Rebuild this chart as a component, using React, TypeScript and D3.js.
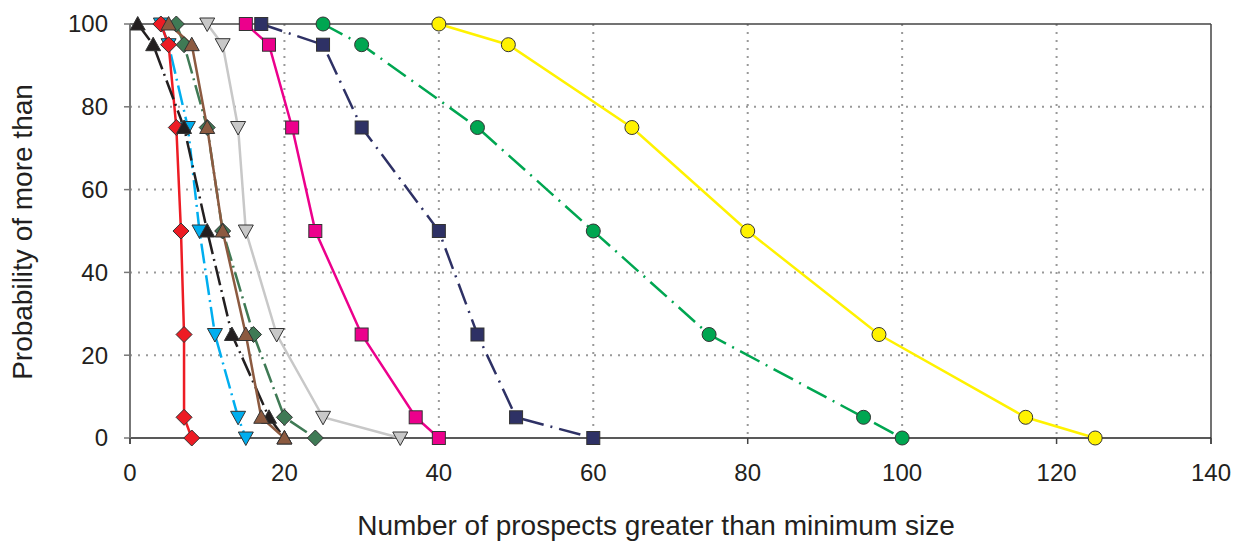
import React from "react";
import * as d3 from "d3";

const probLevels = [100, 95, 75, 50, 25, 5, 0];
const xTicks = [0, 20, 40, 60, 80, 100, 120, 140];
const yTicks = [0, 20, 40, 60, 80, 100];

const seriesGreenDiamond = [6, 7, 10, 12, 16, 20, 24];
const seriesBlue = [4, 5, 7.5, 9, 11, 14, 15];
const seriesRed = [4, 5, 6, 6.6, 7, 7, 8];
const seriesBlack = [1, 3, 7, 10, 13.2, 18, 20];
const seriesBrown = [5, 8, 10, 12, 15, 17, 20];
const seriesGray = [10, 12, 14, 15, 19, 25, 35];
const seriesMagenta = [15, 18, 21, 24, 30, 37, 40];
const seriesNavy = [17, 25, 30, 40, 45, 50, 60];
const seriesGreenCircle = [25, 30, 45, 60, 75, 95, 100];
const seriesYellow = [40, 49, 65, 80, 97, 116, 125];

type S = { xs: number[]; color: string; dash: string; marker: string; fill: string };
const series: S[] = [
  { xs: seriesGreenDiamond, color: "#3f7a55", dash: "20,5,2,5", marker: "diamond", fill: "#3f7a55" },
  { xs: seriesBlue, color: "#00aeef", dash: "20,5,2,5", marker: "tdown", fill: "#00aeef" },
  { xs: seriesRed, color: "#ed1c24", dash: "", marker: "diamond", fill: "#ed1c24" },
  { xs: seriesBlack, color: "#231f20", dash: "20,5,2,5", marker: "tup", fill: "#231f20" },
  { xs: seriesBrown, color: "#8c5a40", dash: "", marker: "tup", fill: "#8c5a40" },
  { xs: seriesGray, color: "#c8c8c8", dash: "", marker: "tdown", fill: "#c8c8c8" },
  { xs: seriesMagenta, color: "#ec008c", dash: "", marker: "square", fill: "#ec008c" },
  { xs: seriesNavy, color: "#2e3165", dash: "22,7,2,7", marker: "square", fill: "#2e3165" },
  { xs: seriesGreenCircle, color: "#00a651", dash: "22,7,2,7", marker: "circle", fill: "#00a651" },
  { xs: seriesYellow, color: "#fff200", dash: "", marker: "circle", fill: "#fff200" },
];

const W = 1238, H = 544;
const x = d3.scaleLinear().domain([0, 140]).range([130, 1211]);
const y = d3.scaleLinear().domain([0, 100]).range([438, 24]);

function Marker({ kind, cx, cy, fill }: { kind: string; cx: number; cy: number; fill: string }) {
  const st = { fill, stroke: "#333", strokeWidth: 1 };
  if (kind === "diamond") {
    const r = 8;
    return <path d={`M${cx},${cy - r}L${cx + r},${cy}L${cx},${cy + r}L${cx - r},${cy}Z`} {...st} />;
  }
  if (kind === "square") {
    const r = 6.5;
    return <rect x={cx - r} y={cy - r} width={2 * r} height={2 * r} {...st} />;
  }
  if (kind === "circle") {
    return <circle cx={cx} cy={cy} r={7} {...st} />;
  }
  if (kind === "tup") {
    return <path d={`M${cx},${cy - 7.5}L${cx + 7.5},${cy + 6}L${cx - 7.5},${cy + 6}Z`} {...st} />;
  }
  return <path d={`M${cx},${cy + 7.5}L${cx + 7.5},${cy - 6}L${cx - 7.5},${cy - 6}Z`} {...st} />;
}

export default function App() {
  const line = d3
    .line<[number, number]>()
    .x((d) => x(d[0]))
    .y((d) => y(d[1]));
  const font = "'Liberation Sans', Arial, sans-serif";
  return (
    <svg width={W} height={H} style={{ position: "absolute", left: 0, top: 0, background: "#fff" }} fontFamily={font}>
      {yTicks.filter((t) => t > 0 && t < 100).map((t) => (
        <line key={"gy" + t} x1={x(0)} x2={x(140)} y1={y(t)} y2={y(t)} stroke="#999" strokeWidth={2} strokeDasharray="2,6" />
      ))}
      {xTicks.filter((t) => t > 0 && t < 140).map((t) => (
        <line key={"gx" + t} x1={x(t)} x2={x(t)} y1={y(100)} y2={y(0)} stroke="#999" strokeWidth={2} strokeDasharray="2,6" />
      ))}
      <line x1={x(0)} x2={x(140)} y1={y(100)} y2={y(100)} stroke="#444" strokeWidth={1.5} />
      <line x1={x(140)} x2={x(140)} y1={y(100)} y2={y(0) + 6} stroke="#444" strokeWidth={1.5} />
      <line x1={x(0)} x2={x(140)} y1={y(0)} y2={y(0)} stroke="#222" strokeWidth={1.5} />
      <line x1={x(0)} x2={x(0)} y1={y(100)} y2={y(0) + 6} stroke="#777" strokeWidth={2} />
      {yTicks.map((t) => (
        <g key={"yt" + t}>
          <line x1={x(0) - 6} x2={x(0)} y1={y(t)} y2={y(t)} stroke="#777" strokeWidth={1.5} />
          <text x={108} y={y(t)} dy="0.35em" textAnchor="end" fontSize={24} fill="#231f20">{t}</text>
        </g>
      ))}
      {xTicks.map((t) => (
        <g key={"xt" + t}>
          <line x1={x(t)} x2={x(t)} y1={y(0)} y2={y(0) + 6} stroke="#444" strokeWidth={1.5} />
          <text x={x(t)} y={481} textAnchor="middle" fontSize={24} fill="#231f20">{t}</text>
        </g>
      ))}
      <text x={656} y={535} textAnchor="middle" fontSize={28} fill="#231f20">Number of prospects greater than minimum size</text>
      <text transform={`translate(32,232) rotate(-90)`} textAnchor="middle" fontSize={28} fill="#231f20">Probability of more than</text>
      {series.map((s, i) => (
        <path key={"l" + i} d={line(s.xs.map((v, j) => [v, probLevels[j]] as [number, number])) || ""} fill="none" stroke={s.color} strokeWidth={2.5} strokeDasharray={s.dash || undefined} />
      ))}
      {series.map((s, i) => (
        <g key={"m" + i}>
          {s.xs.map((v, j) => (
            <Marker key={j} kind={s.marker} cx={x(v)} cy={y(probLevels[j])} fill={s.fill} />
          ))}
        </g>
      ))}
    </svg>
  );
}
